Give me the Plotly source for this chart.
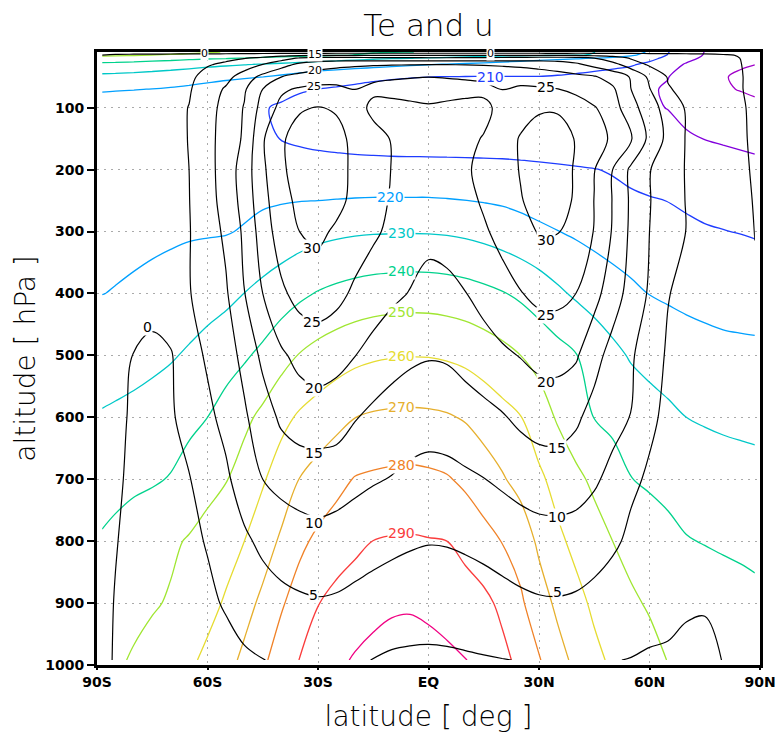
import plotly.graph_objects as go

# ---------------- grid ----------------
lats = [-88.6, -85, -80, -75, -70, -65, -60, -55, -50, -45, -40, -35, -30, -25, -20, -15, -10, -5, 0,
        5, 10, 15, 20, 25, 30, 35, 40, 45, 50, 55, 60, 65, 70, 75, 80, 85, 88.6]
plev = [10, 15, 20, 30, 50, 70, 100, 150, 200, 250, 300, 400, 500, 600, 700, 800, 900, 992]

# ---------------- Te (K), one row per pressure level ----------------
te_p10 = [258, 257.3, 256.2, 254.9, 253.6, 252.3, 250.9, 249.6, 248.2, 246.8, 245.4, 244.1, 242.9, 241.9, 241.1, 240.6, 240.3, 240.1, 239.6, 238.2, 236.6, 235.1, 233.8, 232.6, 231.7, 230.9, 230.4, 230.1, 227.2, 223.3, 219.1, 210.4, 205.1, 199.8, 196.5, 194.2, 193]
te_p15 = [252, 251.5, 250.8, 249.9, 249, 248.1, 247.2, 246.3, 245.5, 244.6, 243.7, 242.8, 241.8, 240.8, 239.8, 238.7, 237.6, 236.5, 235.5, 234.5, 233.7, 233, 232.4, 231.9, 231.4, 230.8, 230.3, 229.6, 226, 221.5, 216.3, 209.6, 203.8, 199.5, 197.3, 196, 195]
te_p20 = [246.3, 245.9, 245.2, 244.3, 243.3, 242.2, 241.2, 240.6, 239.8, 238.6, 237.4, 236.2, 235, 233.8, 232.6, 231.6, 230.7, 230.2, 229.4, 228.3, 227.1, 225.9, 224.7, 223.6, 222.6, 221.7, 220.8, 219.8, 217.7, 215.2, 212, 208.2, 202.4, 198.6, 196.3, 194.9, 194]
te_p30 = [237.5, 237.1, 236.4, 235.5, 234.5, 233.3, 232.1, 231.2, 230.4, 229.5, 228.3, 227.2, 226.1, 225.1, 224, 223, 222, 221.1, 220.3, 219.6, 218.8, 218, 217.2, 216.3, 215.3, 214.3, 213.4, 212.6, 211.8, 210.8, 208.4, 203.8, 199.2, 196.1, 193.4, 191.3, 190.2]
te_p50 = [227.6, 227.3, 226.7, 225.9, 225, 224, 222.9, 221.9, 221, 220.1, 218.6, 216.8, 215, 213.6, 212.5, 211.6, 210.9, 210.4, 210.1, 209.9, 209.8, 209.8, 209.8, 209.8, 209.8, 209.4, 208.8, 208, 207, 205.6, 203.5, 200.2, 197.2, 194.2, 190.8, 188, 186]
te_p70 = [220.6, 220.4, 220.2, 219.9, 219.2, 218.2, 217, 215.6, 214, 212.7, 211.6, 210.7, 210, 209.2, 208.4, 207.6, 207, 206.6, 206.4, 206.2, 206, 205.8, 205.6, 205.3, 205, 204.5, 203.9, 203.2, 202.4, 201.6, 200.6, 199.4, 197, 194.3, 191.4, 189.3, 187.5]
te_p100 = [216.8, 216.5, 216, 215.3, 214.5, 213.7, 212.8, 211.9, 211, 210.4, 209.3, 207.8, 206.6, 205.7, 205, 204.6, 204.3, 204.1, 204, 204, 204, 204, 203.9, 203.7, 203.4, 203, 202.6, 202.1, 201.6, 201.1, 200.5, 199.9, 198.6, 197.2, 195.7, 194.3, 193.5]
te_p150 = [214.6, 214.5, 214.3, 214, 213.6, 213.1, 212.5, 211.8, 211, 210.5, 209.9, 208.6, 207.6, 207, 206.4, 206.1, 205.8, 205.6, 205.5, 205.4, 205.3, 205.25, 205.2, 205.1, 205, 204.8, 204.5, 204.1, 203.6, 203, 202.3, 201.5, 200.6, 199.9, 199.2, 198.5, 198]
te_p200 = [214.2, 214.2, 214.2, 214.2, 214.2, 214.2, 214.2, 214.2, 214.2, 214.2, 214.3, 214.1, 213.9, 213.7, 213.5, 213.3, 213.2, 213.2, 213.2, 213.1, 213, 212.8, 212.6, 212.2, 211.7, 211.2, 210.7, 210.2, 209.5, 208.3, 207, 205.8, 204.8, 203.9, 203.1, 202.5, 202]
te_p250 = [216, 216, 216.1, 216.2, 216.5, 216.8, 217.2, 217.7, 218.3, 218.9, 219.4, 219.8, 220, 220.3, 220.6, 220.8, 220.8, 220.8, 220.8, 220.5, 220.1, 219.5, 218.8, 217.8, 216.6, 215.3, 214, 212.8, 211.9, 211.1, 210.5, 209.9, 209, 208, 207.3, 206.5, 206]
te_p300 = [218, 218, 218.2, 218.4, 218.7, 219.1, 219.3, 219.5, 220.6, 222.6, 224.2, 225.8, 227.2, 228.2, 228.9, 229.3, 229.4, 229.5, 229.4, 229, 228.2, 227, 225.4, 223.5, 221.7, 220.2, 218.7, 217.2, 215.8, 214.5, 213.4, 212.3, 211.4, 210.7, 210.2, 209.7, 209.2]
te_p400 = [219.9, 220.3, 221, 222, 223.2, 224.6, 226, 227.6, 230.1, 232.7, 235.4, 238.2, 240.6, 242.3, 243.7, 244.7, 245.3, 245.6, 245.5, 244.9, 243.9, 242.4, 240.6, 238.3, 235.2, 231.7, 228.6, 226, 223.8, 221.8, 219.8, 218.8, 217.9, 217.2, 216.6, 216.2, 216]
te_p500 = [225.3, 225.8, 226.6, 227.7, 229.1, 231.2, 233.7, 236.2, 238.8, 242.1, 246.5, 250.5, 253.3, 255.6, 257.4, 258.7, 259.4, 259.7, 259.6, 258.9, 257.6, 255.5, 253, 250, 246.8, 243.5, 240.4, 236.3, 232.4, 229.1, 227, 225.3, 224, 223.1, 222.4, 222.1, 221.9]
te_p600 = [230.8, 231.5, 232.6, 234, 235.8, 237.8, 240, 243.7, 247.8, 252.2, 257.3, 261.3, 264.2, 267, 269.9, 271.2, 271.8, 272, 271.7, 270.9, 269.2, 266.3, 263.2, 260.3, 254.8, 249, 244.4, 239.8, 237.7, 235.8, 233.9, 232, 230, 229.1, 228.4, 227.9, 227.6]
te_p700 = [235.9, 237, 238.2, 239, 240.5, 243.6, 246.6, 249.5, 254.2, 259, 264.7, 270.2, 273.8, 277.3, 280.5, 281.5, 282.2, 282.5, 281.9, 280.8, 278.2, 274.7, 271, 266.6, 261.8, 256.8, 252.1, 248.2, 244.3, 240.2, 238.5, 237, 235.8, 234.8, 234, 233.4, 233]
te_p800 = [241, 242.4, 244.4, 246.5, 248.5, 250.8, 253.8, 256.8, 260, 265.5, 271.4, 277.9, 282, 284.8, 287.5, 290.1, 290.8, 291, 290.5, 290, 286.7, 283.3, 279.7, 276.1, 268.1, 262, 257.6, 253.7, 250, 247.6, 245.3, 242.9, 240.5, 239.6, 238.8, 238.2, 237.9]
te_p900 = [245, 246, 247.5, 249, 250.9, 254.2, 257.4, 260.9, 266.5, 272.1, 278.9, 284.3, 289.7, 293.2, 295.8, 297.8, 298.8, 299, 298.4, 297.2, 295.1, 292.4, 287.9, 281.4, 274.6, 268, 262.9, 258.3, 254.8, 251.2, 249.2, 248, 246.6, 245.4, 244.1, 243, 242]
te_p992 = [247, 248.6, 250.9, 253.5, 255.9, 258.5, 261.8, 266.6, 272.1, 278.3, 284.5, 290.2, 294.4, 298.4, 300.7, 302.1, 303.4, 304, 302.6, 301.5, 300.3, 297, 292.6, 287.4, 280.7, 273.7, 267.7, 262.3, 258.4, 255.4, 252.5, 249.8, 248.3, 247, 246, 245, 244.5]

# ---------------- u (m/s), one row per pressure level ----------------
u_p10 = [-0.8, -1.1, -1.5, -1.9, -2.2, -2.5, -3, -3, -3, -3, -3, -3, -3, -3, -3, -3, -3, -3, -3, -3, -3, -3, -3, -3, -3, -3, -2.8, -2.6, -2.4, -2.2, -2, -1.8, -1.6, -1.4, -1.2, -1.1, -1]
u_p15 = [0, 0.3, 0.6, 0.9, 1.2, 1.5, 1.9, 2.3, 2.7, 3.1, 3.5, 3.9, 4.2, 4.3, 4.3, 4.3, 4.3, 4.3, 4.3, 4.3, 4.3, 4.3, 4.3, 4.3, 4.3, 4.2, 4, 3.6, 3.1, 2.5, 2, 1.6, 1.2, 0.8, 0.3, -0.2, -0.8]
u_p20 = [0.2, 0.6, 1.1, 1.7, 2.3, 2.9, 3.5, 4.2, 4.9, 5.8, 8, 10.5, 12, 12, 11.8, 11.5, 11.3, 11.1, 11, 11, 11.1, 11.3, 11.6, 12, 12.4, 12.5, 12.2, 10, 7.5, 4.6, 3.3, 2.6, 2, 1.5, 0.9, -0.1, -0.8]
u_p30 = [0.4, 0.9, 1.5, 2.2, 3, 3.8, 4.7, 5.6, 7.5, 10, 12.8, 16.1, 17.8, 18.6, 19.1, 19.5, 19.7, 19.8, 19.9, 19.9, 19.8, 19.6, 19.3, 18.9, 18.2, 17.4, 15.8, 13.5, 11.5, 7.4, 4.3, 3.3, 2.6, 1.9, 1.2, 0, -0.8]
u_p50 = [0.6, 1.1, 1.7, 2.4, 3.2, 4.2, 6.3, 8.4, 12.3, 16.4, 19.9, 21.6, 22.6, 23.3, 23.9, 24.3, 24.6, 24.8, 24.95, 24.8, 24.6, 24.3, 24, 23.5, 22.8, 22, 21.2, 20.4, 18, 14.6, 9, 4.7, 3.6, 2.7, 1.6, 0.1, -0.8]
u_p70 = [0.8, 1.3, 2, 2.8, 3.6, 4.6, 7.4, 10.6, 14.4, 20, 24.2, 25.6, 26.2, 25.9, 24.97, 25.8, 26.2, 26.4, 26.5, 26.4, 26.2, 25.9, 24.97, 25.6, 25.5, 25.1, 23.6, 21.8, 20.8, 15, 10.2, 5.3, 4, 3, 1.8, 0.1, -0.8]
u_p100 = [1, 1.5, 2.2, 3, 3.8, 5.1, 8.2, 11.6, 15.3, 21.9, 26.3, 29.6, 30.2, 29.6, 26.8, 24, 23.8, 24.2, 24.6, 24.2, 23.8, 24, 26.2, 28, 29.6, 29.6, 28, 25.4, 22.2, 16.8, 12.3, 7.8, 4.6, 3.3, 1.9, 0.3, -0.6]
u_p150 = [1.2, 1.7, 2.4, 3.2, 4, 5.1, 8.5, 12, 15.7, 24.5, 29.5, 31.5, 32, 31.2, 29, 26.4, 24.8, 24, 23.5, 23.7, 24.2, 25.2, 27.5, 30.4, 31.4, 31.6, 29.8, 27.4, 24.1, 20.3, 13.8, 8.7, 4.7, 3.3, 2, 0.3, -0.4]
u_p200 = [1.5, 2, 2.6, 3.3, 4, 5, 8.3, 12.3, 17.2, 24.1, 29.2, 32, 33, 31.8, 28.9, 26.8, 24.9, 23.5, 22.6, 23, 24.4, 26.2, 28.4, 30.2, 32, 31.8, 29.6, 25.2, 20, 14, 10.2, 7.5, 4.7, 3.3, 2, 0.6, -0.4]
u_p250 = [1.6, 2.1, 2.8, 3.5, 4.2, 4.9, 8.1, 11.9, 16.8, 23.4, 28.2, 31.2, 32.3, 31.3, 28.8, 26.6, 24.6, 23, 21.9, 22.3, 23.6, 25.6, 27.7, 29.8, 31.2, 31.6, 29.5, 24.9, 19.8, 14.2, 10.2, 7.5, 4.8, 3.4, 2.1, 0.8, -0.2]
u_p300 = [1.7, 2.2, 2.9, 3.6, 4.2, 4.8, 7.4, 11, 15.9, 22.4, 27.4, 30, 31, 29.3, 27.4, 25.7, 24.1, 22.2, 21, 21.3, 22.3, 24.4, 26.4, 28.4, 30.3, 30.2, 28.2, 24.8, 19.6, 14, 10, 7.5, 4.9, 3.5, 2.3, 1.1, -0.1]
u_p400 = [1.8, 2.2, 2.4, 2.4, 3.2, 4.8, 6.7, 9.4, 14.9, 20, 24.1, 26.7, 27.2, 26.3, 24.2, 22.6, 21, 19.8, 18.8, 19.1, 19.9, 21.6, 23.2, 24.8, 26.2, 26.3, 25, 21.6, 17.3, 13.2, 9.4, 5.2, 3.7, 2.8, 1.9, 1.1, 0.6]
u_p500 = [1.2, 0.8, -0.1, -1.5, -0.4, 3.2, 5.6, 8.1, 11.2, 16.2, 19.3, 21.3, 22.4, 21.5, 20.1, 18.3, 16.8, 15.8, 15.3, 15.5, 16.6, 17.9, 19.2, 20.2, 21.3, 21.5, 20.6, 16.7, 13.2, 10.6, 7.4, 4.4, 3.3, 2.5, 1.8, 1.2, 0.8]
u_p600 = [0.9, 0.5, -0.3, -0.8, -0.5, 1.5, 4, 6.3, 9.4, 12.4, 15.9, 17.4, 17.6, 17.3, 15.3, 13.9, 12.9, 12.2, 11.9, 12.1, 12.8, 13.6, 14.6, 16, 17.1, 17.2, 15.8, 13.3, 11.6, 9.9, 5.7, 4.2, 3.2, 2.4, 1.8, 1.3, 1]
u_p700 = [0.8, 0.3, -0.4, -0.9, -0.8, -0.2, 2, 4.2, 7.3, 10, 11.3, 12.1, 12.4, 12.1, 11.2, 10.4, 9.8, 9, 8.5, 8.7, 9.3, 9.9, 10.8, 11.7, 12.3, 12.4, 12, 10.7, 8.6, 5.7, 4.5, 3.4, 2.6, 2, 1.6, 1.3, 1.1]
u_p800 = [0.7, 0.1, -0.6, -1, -1, -0.7, 0.2, 2, 4.2, 6, 7.3, 8, 8.5, 8, 7.3, 6.6, 6, 5.5, 5.2, 5.3, 5.7, 6.2, 6.8, 7.6, 8.2, 8.3, 8, 7, 5.7, 4.2, 3.3, 2.7, 2.2, 1.8, 1.5, 1.3, 1.2]
u_p900 = [0.6, -0.1, -0.8, -1.1, -1.2, -1.1, -0.6, 0.3, 1.7, 2.8, 3.7, 4.3, 4.6, 4.4, 3.8, 3.2, 2.7, 2.4, 2.1, 2.2, 2.5, 3, 3.6, 4.1, 4.5, 4.6, 4.3, 3.6, 2.8, 2, 1.4, 1, 0.3, 0.15, 0.2, 0.6, 0.7]
u_p992 = [0.3, -0.1, -0.9, -1.4, -1.6, -1.6, -1.4, -1.1, -0.6, -0.1, 0.6, 1.2, 1.6, 1.3, 0.6, -0.1, -0.6, -0.8, -0.8, -0.7, -0.5, -0.3, -0.1, 0.1, 0.6, 0.8, 0.6, 0.3, 0.1, -0.1, -0.4, -0.5, -0.6, -0.5, 0.05, 0.3, 0.4]

# ---------------- contour levels / colours ----------------
te_levels = [190, 200, 210, 220, 230, 240, 250, 260, 270, 280, 290, 300]
te_colors = ['rgb(160,0,200)', 'rgb(130,0,220)', 'rgb(30,60,255)', 'rgb(0,160,255)', 'rgb(0,200,200)',
             'rgb(0,210,140)', 'rgb(160,230,50)', 'rgb(230,220,50)', 'rgb(230,175,45)', 'rgb(240,130,40)',
             'rgb(250,60,60)', 'rgb(240,0,130)']
u_levels = [0, 5, 10, 15, 20, 25, 30]

x_tickvals = [-90, -60, -30, 0, 30, 60, 90]
x_ticktext = ['90S', '60S', '30S', 'EQ', '30N', '60N', '90N']
y_tickvals = [100, 200, 300, 400, 500, 600, 700, 800, 900, 1000]

# contour labels (text, lat, hPa)
te_label_text = ['210', '220', '230', '240', '250', '260', '270', '280', '290']
te_label_lat = [16.8, -10.3, -7.3, -7.3, -7.3, -7.3, -7.3, -7.3, -7.3]
te_label_p = [50, 244, 302, 363, 430, 501, 583, 677, 787]
u_label_text = ['30', '25', '20', '15', '10', '5', '0',
                '30', '25', '20', '15', '10', '5', '25']
u_label_lat = [-31.5, -31.5, -31.2, -31.2, -31.2, -31.2, -76.3,
               31.8, 31.8, 31.8, 35, 35, 35, 31.8]
u_label_p = [326, 446, 552, 657, 770, 887, 454,
             313, 434, 543, 649, 761, 882, 67]
# crowded labels along the top edge (drawn smaller)
u_top_text = ['15', '20', '25', '0', '0']
u_top_lat = [-30.7, -30.7, -31.2, -60.8, 16.8]
u_top_p = [14.5, 40, 66, 12, 12]

te = [te_p10, te_p15, te_p20, te_p30, te_p50, te_p70, te_p100, te_p150, te_p200, te_p250,
      te_p300, te_p400, te_p500, te_p600, te_p700, te_p800, te_p900, te_p992]
u = [u_p10, u_p15, u_p20, u_p30, u_p50, u_p70, u_p100, u_p150, u_p200, u_p250,
     u_p300, u_p400, u_p500, u_p600, u_p700, u_p800, u_p900, u_p992]

fig = go.Figure()
for lv, col in zip(te_levels, te_colors):
    fig.add_trace(go.Contour(
        x=lats, y=plev, z=te, autocontour=False,
        contours=dict(start=lv, end=lv, size=10, coloring='none'),
        line=dict(color=col, width=1.3, smoothing=1.0),
        showscale=False, hoverinfo='skip'))
fig.add_trace(go.Contour(
    x=lats, y=plev, z=u, autocontour=False,
    contours=dict(start=u_levels[0], end=u_levels[-1], size=5, coloring='none'),
    line=dict(color='black', width=1.2, smoothing=1.0),
    showscale=False, hoverinfo='skip'))

label_font = 'DejaVu Sans'
te_color_of = dict(zip(te_levels, te_colors))
for t, la, pp in zip(te_label_text, te_label_lat, te_label_p):
    fig.add_annotation(x=la, y=pp, xref='x', yref='y', text=t, showarrow=False,
                       font=dict(family=label_font, size=14, color=te_color_of[int(t)]),
                       bgcolor='white', borderpad=0)
for t, la, pp in zip(u_label_text, u_label_lat, u_label_p):
    fig.add_annotation(x=la, y=pp, xref='x', yref='y', text=t, showarrow=False,
                       font=dict(family=label_font, size=14, color='black'),
                       bgcolor='white', borderpad=0)
for t, la, pp in zip(u_top_text, u_top_lat, u_top_p):
    fig.add_annotation(x=la, y=pp, xref='x', yref='y', text=t, showarrow=False,
                       font=dict(family=label_font, size=11, color='black'),
                       bgcolor='white', borderpad=0)

tick_font = dict(family='DejaVu Sans', size=14, color='black', weight='bold')
title_font = dict(family='DejaVu Sans', size=28, color='black', weight=200)

fig.update_layout(
    width=775, height=733,
    margin=dict(l=97, r=15, t=52, b=68, autoexpand=False),
    plot_bgcolor='white', paper_bgcolor='white', showlegend=False,
    title=dict(text='Te and u', x=0.5, xref='paper', xanchor='center',
               y=1 - 25 / 733, yref='container', yanchor='middle',
               font=dict(family='DejaVu Sans', size=31, color='black', weight=200)),
)
fig.update_xaxes(
    range=[-90, 90], tickvals=x_tickvals, ticktext=x_ticktext, automargin=False,
    ticklabeloverflow='allow',
    showgrid=True, gridcolor='#aaaaaa', griddash='2px,5px', gridwidth=1,
    showline=True, mirror=True, linecolor='black', linewidth=3,
    ticks='outside', ticklen=2, tickwidth=1.5, tickcolor='black', zeroline=False,
    tickfont=tick_font,
    title=dict(text='latitude [ deg ]', font=title_font, standoff=19))
fig.update_yaxes(
    range=[1000, 10], tickvals=y_tickvals, automargin=False,
    showgrid=True, gridcolor='#aaaaaa', griddash='2px,5px', gridwidth=1,
    showline=True, mirror=True, linecolor='black', linewidth=3,
    ticks='outside', ticklen=7, tickwidth=1.5, tickcolor='black', zeroline=False,
    tickfont=tick_font,
    title=dict(text='altitude [ hPa ]', font=title_font, standoff=2))

fig.write_html('out.html', config={'displayModeBar': False},
               post_script="document.body.style.margin='0px';")
